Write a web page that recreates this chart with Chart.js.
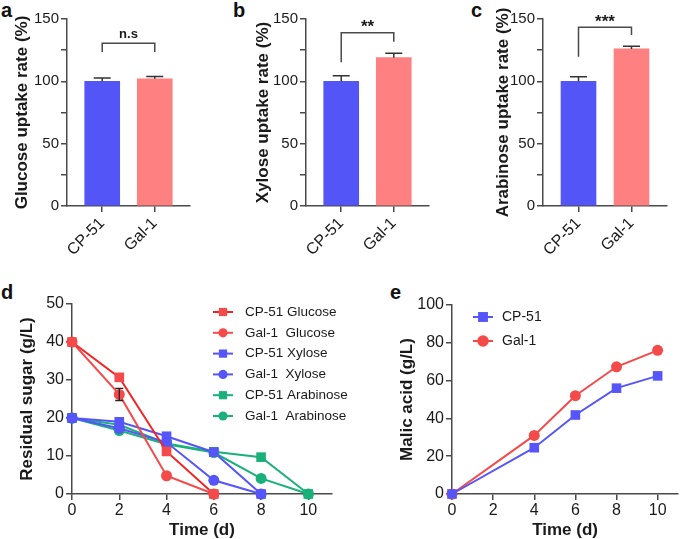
<!DOCTYPE html>
<html><head><meta charset="utf-8">
<script src="https://cdn.jsdelivr.net/npm/chart.js@4.4.0/dist/chart.umd.min.js"></script>
<style>
html,body{margin:0;padding:0;background:#fff;}
body{width:685px;height:539px;position:relative;overflow:hidden;font-family:"Liberation Sans",Arial,sans-serif;}
canvas{position:absolute;}
.lbl{position:absolute;font-weight:bold;font-size:20px;color:#111;line-height:20px;}
</style></head><body>
<div class="lbl" style="left:1px;top:0px">a</div>
<div class="lbl" style="left:233px;top:0px">b</div>
<div class="lbl" style="left:471px;top:0px">c</div>
<div class="lbl" style="left:1px;top:282px">d</div>
<div class="lbl" style="left:390px;top:282px">e</div>
<canvas id="ca" style="left:0px;top:0px" width="228" height="280"></canvas>
<canvas id="cb" style="left:230px;top:0px" width="228" height="280"></canvas>
<canvas id="cc" style="left:455px;top:0px" width="230" height="280"></canvas>
<canvas id="cd" style="left:0px;top:285px" width="380" height="254"></canvas>
<canvas id="ce" style="left:380px;top:285px" width="305" height="254"></canvas>
<script>
// ---------- DATA ----------
const barCategories = ['CP-51', 'Gal-1'];
const glucoseRate = [100, 102];
const glucoseErr = [2.7, 1.8];
const xyloseRate = [100, 119];
const xyloseErr = [4.5, 3.5];
const arabinoseRate = [100, 126];
const arabinoseErr = [3.6, 2.2];
const sigLabels = ['n.s', '**', '***'];
const bracketTop = [130.5, 139, 143.3];
const bracketLegs = [[123.5, 123.5], [115.3, 131.8], [119.7, 137.2]];

const timeD = [0, 2, 4, 6, 8, 10];
const sugarLabels = ['CP-51 Glucose', 'Gal-1  Glucose', 'CP-51 Xylose', 'Gal-1  Xylose', 'CP-51 Arabinose', 'Gal-1  Arabinose'];
const cp51Glucose = [40, 30.7, 11.2, 0];
const gal1Glucose = [40, 26.2, 4.8, 0];
const gal1GlucoseErr = [0, 1.6, 0, 0];
const cp51Xylose = [20, 19, 15.2, 11, 0];
const gal1Xylose = [20, 17.3, 13.6, 3.6, 0];
const cp51Arabinose = [20, 18.2, 13.3, 11.1, 9.7, 0];
const gal1Arabinose = [20, 16.7, 13.1, 10.9, 4.1, 0];

const timeE = [0, 4, 6, 8, 10];
const malicLabels = ['CP-51', 'Gal-1'];
const cp51Malic = [0, 24.5, 41.8, 56, 62.5];
const gal1Malic = [0, 31, 52, 67.3, 76];

// ---------- STYLE ----------
const FONT = '"Liberation Sans", Arial, sans-serif';
const AXIS = '#4a4a4a';
const TXT = '#1a1a1a';
const BLUE_BAR = '#5455F6';
const PINK_BAR = '#FF8080';
const RED1 = '#F42222';
const RED2 = '#F54A4A';
const BLUE = '#5555FA';
const GREEN = '#19B07A';

Chart.defaults.font.family = FONT;
Chart.defaults.color = TXT;

const errPlugin = {
  id: 'errbars',
  afterDatasetsDraw(chart, args, o) {
    if (!o || !o.items) return;
    const ctx = chart.ctx, xs = chart.scales.x, ys = chart.scales.y;
    ctx.save();
    ctx.strokeStyle = o.color || '#333';
    ctx.lineWidth = o.lineWidth || 1.5;
    o.items.forEach(it => {
      if (!it.e) return;
      const x = xs.getPixelForValue(it.x);
      const yTop = ys.getPixelForValue(it.y + it.e);
      const yBot = it.both ? ys.getPixelForValue(it.y - it.e) : ys.getPixelForValue(it.y);
      const hw = o.cap / 2;
      ctx.beginPath();
      ctx.moveTo(x, yBot); ctx.lineTo(x, yTop);
      ctx.moveTo(x - hw, yTop); ctx.lineTo(x + hw, yTop);
      if (it.both) { ctx.moveTo(x - hw, yBot); ctx.lineTo(x + hw, yBot); }
      ctx.stroke();
    });
    ctx.restore();
  }
};

const bracketPlugin = {
  id: 'bracket',
  afterDatasetsDraw(chart, args, o) {
    if (!o || !o.text) return;
    const ctx = chart.ctx, xs = chart.scales.x, ys = chart.scales.y;
    const x1 = xs.getPixelForValue(1), x2 = xs.getPixelForValue(2);
    const yt = ys.getPixelForValue(o.top);
    const y1 = ys.getPixelForValue(o.legs[0]), y2 = ys.getPixelForValue(o.legs[1]);
    ctx.save();
    ctx.strokeStyle = AXIS; ctx.lineWidth = 1.5;
    ctx.beginPath();
    ctx.moveTo(x1, y1); ctx.lineTo(x1, yt); ctx.lineTo(x2, yt); ctx.lineTo(x2, y2);
    ctx.stroke();
    ctx.fillStyle = TXT;
    ctx.font = 'bold ' + o.size + 'px ' + FONT;
    ctx.textAlign = 'center'; ctx.textBaseline = 'middle';
    ctx.fillText(o.text, (x1 + x2) / 2, yt - o.gap);
    ctx.restore();
  }
};

function drawMarker(ctx, style, x, y, r) {
  ctx.beginPath();
  if (style === 'rect') {
    const s = r * Math.SQRT1_2;
    ctx.rect(x - s, y - s, 2 * s, 2 * s);
  } else {
    ctx.arc(x, y, r, 0, Math.PI * 2);
  }
  ctx.fill();
}

const legendPlugin = {
  id: 'customLegend',
  afterDraw(chart, args, o) {
    if (!o || !o.x) return;
    const ctx = chart.ctx;
    ctx.save();
    ctx.font = o.size + 'px ' + FONT;
    ctx.textBaseline = 'middle'; ctx.textAlign = 'left';
    chart.data.datasets.forEach((ds, i) => {
      const y = o.y + i * o.dy;
      ctx.strokeStyle = ds.borderColor; ctx.lineWidth = 2;
      ctx.beginPath(); ctx.moveTo(o.x, y); ctx.lineTo(o.x + 20, y); ctx.stroke();
      ctx.fillStyle = ds.pointBackgroundColor;
      drawMarker(ctx, ds.pointStyle, o.x + 10, y, ds.pointStyle === 'rect' ? o.rr : o.cr);
      ctx.fillStyle = TXT;
      ctx.fillText(ds.label, o.x + o.tx, y);
    });
    ctx.restore();
  }
};

function axisCommon(size) {
  return {
    grid: { display: true, drawOnChartArea: false, drawTicks: true, tickLength: 6, color: AXIS, lineWidth: 1.5, offset: false },
    border: { display: true, color: AXIS, width: 1.5 },
    ticks: { color: TXT, font: { size: size }, padding: 2 }
  };
}

function barChart(id, values, errs, yTitle, k, cfg) {
  const xa = axisCommon(16), ya = axisCommon(15);
  new Chart(document.getElementById(id), {
    type: 'bar',
    data: { datasets: [{
      data: values.map((v, i) => ({ x: i + 1, y: v })),
      backgroundColor: [BLUE_BAR, PINK_BAR],
      barThickness: 35
    }] },
    options: {
      responsive: false, animation: false, events: [],
      layout: { padding: { top: 19, right: cfg.right, bottom: 0, left: 0 } },
      plugins: {
        legend: { display: false }, tooltip: { enabled: false },
        errbars: { cap: 17, color: '#333', items: values.map((v, i) => ({ x: i + 1, y: v, e: errs[i] })) },
        bracket: { text: sigLabels[k], top: bracketTop[k], legs: bracketLegs[k], size: k === 0 ? 13 : 17, gap: k === 0 ? 8.5 : 5 }
      },
      scales: {
        x: Object.assign(xa, {
          type: 'linear', min: 0.33, max: 2.67, offset: false,
          afterBuildTicks: s => { s.ticks = [{ value: 1 }, { value: 2 }]; },
          afterFit: s => { s.height = 74; },
          ticks: { color: TXT, font: { size: 16 }, padding: 2, minRotation: 45, maxRotation: 45, autoSkip: false,
                   callback: v => barCategories[Math.round(v) - 1] }
        }),
        y: Object.assign(ya, {
          min: 0, max: 150,
          afterFit: s => { s.width = cfg.yw; },
          ticks: { color: TXT, font: { size: 15 }, padding: 2, stepSize: 25, callback: v => (v % 50 === 0 ? String(v) : '') },
          title: { display: true, text: yTitle, color: TXT, font: { size: 17, weight: 'bold', lineHeight: 1.2 }, padding: { top: cfg.tp, bottom: 0 } }
        })
      }
    },
    plugins: [errPlugin, bracketPlugin]
  });
}

barChart('ca', glucoseRate, glucoseErr, 'Glucose uptake rate (%)', 0, { right: 38, yw: 67, tp: 12 });
barChart('cb', xyloseRate, xyloseErr, 'Xylose uptake rate (%)', 1, { right: 29, yw: 76, tp: 23 });
barChart('cc', arabinoseRate, arabinoseErr, 'Arabinose uptake rate (%)', 2, { right: 18, yw: 88, tp: 38 });

function pts(xs, ys) { return ys.map((v, i) => ({ x: xs[i], y: v })); }
function lineDs(label, data, color, style, lineColor) {
  return {
    label, data, borderColor: lineColor || color, backgroundColor: color,
    pointBackgroundColor: color, pointBorderWidth: 0, pointStyle: style,
    pointRadius: style === 'rect' ? 6.8 : 5.5, borderWidth: 2, tension: 0, clip: false
  };
}

function timeScales(yMax, yStep, yTitle, padTop) {
  const xa = axisCommon(16), ya = axisCommon(16);
  return {
    x: Object.assign(xa, {
      type: 'linear', min: 0, max: 11,
      afterFit: s => { s.height = 45; },
      ticks: { color: TXT, font: { size: 16 }, padding: 1, stepSize: 2, includeBounds: false },
      title: { display: true, text: 'Time (d)', color: TXT, font: { size: 17, weight: 'bold', lineHeight: 1 }, padding: { top: 0, bottom: 0 } }
    }),
    y: Object.assign(ya, {
      type: 'linear', min: 0, max: yMax,
      afterFit: s => { s.width = 72; },
      ticks: { color: TXT, font: { size: 16 }, padding: 2, stepSize: yStep },
      title: { display: true, text: yTitle, color: TXT, font: { size: 17, weight: 'bold', lineHeight: 1.2 }, padding: { top: padTop, bottom: 0 } }
    })
  };
}

new Chart(document.getElementById('cd'), {
  type: 'line',
  data: { datasets: [
    lineDs(sugarLabels[0], pts(timeD, cp51Glucose), RED2, 'rect', RED1),
    lineDs(sugarLabels[1], pts(timeD, gal1Glucose), RED2, 'circle', RED2),
    lineDs(sugarLabels[2], pts(timeD, cp51Xylose), BLUE, 'rect'),
    lineDs(sugarLabels[3], pts(timeD, gal1Xylose), BLUE, 'circle'),
    lineDs(sugarLabels[4], pts(timeD, cp51Arabinose), GREEN, 'rect'),
    lineDs(sugarLabels[5], pts(timeD, gal1Arabinose), GREEN, 'circle')
  ] },
  options: {
    responsive: false, animation: false, events: [],
    layout: { padding: { top: 19, right: 48, bottom: 0, left: 0 } },
    plugins: {
      legend: { display: false }, tooltip: { enabled: false },
      errbars: { cap: 8, color: '#222', lineWidth: 1.3, items: gal1Glucose.map((v, i) => ({ x: timeD[i], y: v, e: gal1GlucoseErr[i], both: true })) },
      customLegend: { x: 213, y: 27, dy: 20.8, tx: 32, size: 13.5, rr: 5.8, cr: 4.6 }
    },
    scales: timeScales(50, 10, 'Residual sugar (g/L)', 17)
  },
  plugins: [errPlugin, legendPlugin]
});

new Chart(document.getElementById('ce'), {
  type: 'line',
  data: { datasets: [
    lineDs(malicLabels[0], pts(timeE, cp51Malic), BLUE, 'rect'),
    lineDs(malicLabels[1], pts(timeE, gal1Malic), RED2, 'circle')
  ] },
  options: {
    responsive: false, animation: false, events: [],
    layout: { padding: { top: 20, right: 0, bottom: 0, left: 0 } },
    plugins: {
      legend: { display: false }, tooltip: { enabled: false },
      customLegend: { x: 93, y: 32, dy: 24, tx: 29, size: 14, rr: 7, cr: 5.8 }
    },
    scales: timeScales(100, 20, 'Malic acid (g/L)', 17)
  },
  plugins: [legendPlugin]
});
</script>
</body></html>
